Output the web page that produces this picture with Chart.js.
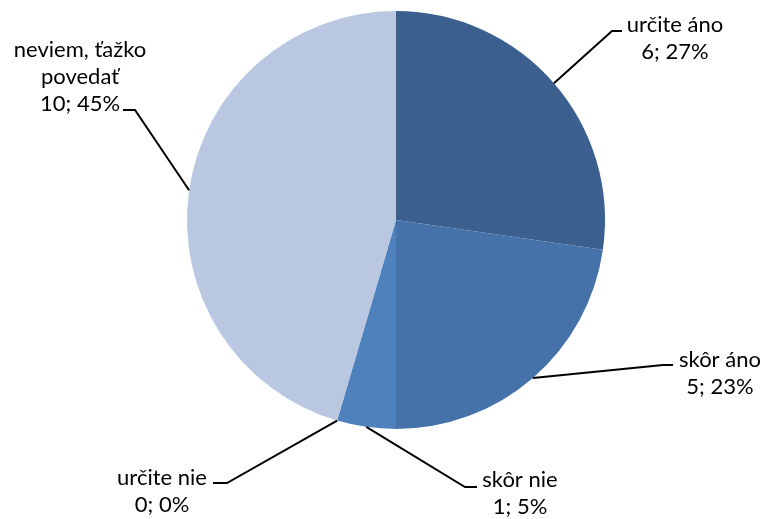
<!DOCTYPE html>
<html>
<head>
<meta charset="utf-8">
<script src="https://cdn.jsdelivr.net/npm/chart.js@4/dist/chart.umd.min.js"></script>
<style>
  html, body { margin: 0; padding: 0; background: #fff; }
  #wrap { width: 765px; height: 519px; }
</style>
</head>
<body>
<div id="wrap"><canvas id="c" width="765" height="519"></canvas></div>
<script>
const categories = ['určite áno', 'skôr áno', 'skôr nie', 'určite nie', 'neviem, ťažko povedať'];
const values = [6, 5, 1, 0, 10];
const percentLabels = ['27%', '23%', '5%', '0%', '45%'];
const labelLines = [['určite áno'], ['skôr áno'], ['skôr nie'], ['určite nie'], ['neviem, ťažko', 'povedať']];
const colors = ['#3B5F8F', '#4572A8', '#4F81BD', '#4F81BD', '#B9C7E1'];

// label layout (elbow point, end of short horizontal, text centre x, first-line centre y)
const labelLayout = [
  { elbow: [612, 31], end: [622, 31], cx: 675, y: 25 },
  { elbow: [663, 365], end: [673, 365], cx: 720, y: 360 },
  { elbow: [465, 487], end: [477, 487], cx: 520, y: 480 },
  { elbow: [227, 483], end: [213, 483], cx: 162, y: 478 },
  { elbow: [135, 110], end: [123, 110], cx: 80, y: 50 }
];
const lineHeight = 27;
const fontSpec = '22px Lato, "Open Sans", sans-serif';

const labelPlugin = {
  id: 'pieLabels',
  afterDraw(chart) {
    const ctx = chart.ctx;
    const meta = chart.getDatasetMeta(0);
    ctx.save();
    meta.data.forEach((arc, i) => {
      const p = arc.getProps(['x', 'y', 'startAngle', 'endAngle', 'outerRadius'], true);
      const mid = (p.startAngle + p.endAngle) / 2;
      const ax = p.x + Math.cos(mid) * p.outerRadius;
      const ay = p.y + Math.sin(mid) * p.outerRadius;
      const L = labelLayout[i];
      ctx.strokeStyle = '#000';
      ctx.lineWidth = 2;
      ctx.beginPath();
      ctx.moveTo(ax, ay);
      ctx.lineTo(L.elbow[0], L.elbow[1]);
      ctx.lineTo(L.end[0], L.end[1]);
      ctx.stroke();
      const lines = labelLines[i].concat([values[i] + '; ' + percentLabels[i]]);
      ctx.fillStyle = '#000';
      ctx.font = fontSpec;
      ctx.textAlign = 'center';
      ctx.textBaseline = 'middle';
      lines.forEach((t, k) => ctx.fillText(t, L.cx, L.y + k * lineHeight));
    });
    ctx.restore();
  }
};

new Chart(document.getElementById('c'), {
  type: 'pie',
  data: {
    labels: categories,
    datasets: [{
      data: values,
      backgroundColor: colors,
      borderWidth: 0
    }]
  },
  options: {
    responsive: false,
    animation: false,
    layout: { padding: { top: 11, bottom: 90, left: 187, right: 160 } },
    plugins: {
      legend: { display: false },
      tooltip: { enabled: false }
    }
  },
  plugins: [labelPlugin]
});
</script>
</body>
</html>
